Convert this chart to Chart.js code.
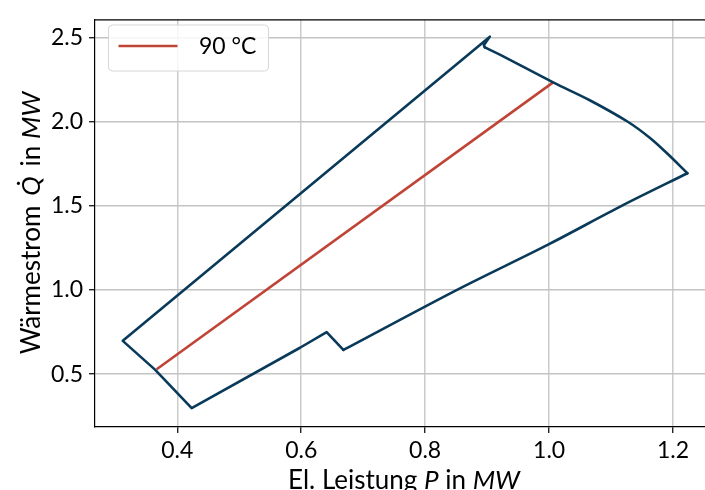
<!DOCTYPE html>
<html>
<head>
<meta charset="utf-8">
<script src="https://cdn.jsdelivr.net/npm/chart.js@4.4.1/dist/chart.umd.min.js"></script>
<style>
  html, body { margin: 0; padding: 0; background: #fff; overflow: hidden; }
  #wrap { width: 705px; height: 490px; position: relative; }
</style>
</head>
<body>
<div id="wrap"><canvas id="c" width="705" height="490"></canvas></div>
<script>
// ---- data ----
const regionLabel = "Betriebsbereich";
// straight parts of the operating-range outline
const regionP = [0.6680, 0.6410, 0.5980, 0.4232, 0.3640, 0.3120, 0.9044, 0.8947, 0.8963];
const regionQ = [0.644, 0.750, 0.657, 0.298, 0.527, 0.698, 2.506, 2.455, 2.442];
// curved upper-right boundary of the outline
const curveP = [0.8963, 0.9205, 1.0065, 1.0656, 1.1270, 1.1624, 1.1890, 1.2232];
const curveQ = [2.442, 2.399, 2.234, 2.128, 2.000, 1.905, 1.817, 1.694];
// slightly bent lower-right boundary
const lowerP = [1.2232, 1.1170, 1.0000, 0.8507, 0.6680];
const lowerQ = [1.694, 1.500, 1.273, 1.000, 0.644];
const line90Label = "90 °C";
const line90P = [0.3667, 1.0065];
const line90Q = [0.529, 2.234];
const xTicks = [0.4, 0.6, 0.8, 1.0, 1.2];
const yTicks = [0.5, 1.0, 1.5, 2.0, 2.5];
const xTitle = [["El. Leistung ", false], ["P", true], [" in ", false], ["MW", true]];
const yTitle = [["Wärmestrom \u2009", false], ["Q\u0307", true], ["\u2009 in ", false], ["MW", true]];

const BLUE = "#0a3a5a";
const RED = "#bf4436";
const FONT = "Lato";

function toPts(xs, ys) { return xs.map((x, i) => ({ x: x, y: ys[i] })); }

function drawMixed(ctx, segs, size) {
  let total = 0;
  const widths = segs.map(([t, it]) => {
    ctx.font = (it ? "italic " : "") + size + "px " + FONT;
    const w = ctx.measureText(t).width; total += w; return w;
  });
  let x = -total / 2;
  segs.forEach(([t, it], i) => {
    ctx.font = (it ? "italic " : "") + size + "px " + FONT;
    ctx.fillText(t, x, 0);
    x += widths[i];
  });
}

const decor = {
  id: "decor",
  afterDraw(chart) {
    const ctx = chart.ctx, a = chart.chartArea;
    ctx.save();
    // top spine
    ctx.strokeStyle = "#000"; ctx.lineWidth = 1.2;
    ctx.beginPath(); ctx.moveTo(a.left, a.top); ctx.lineTo(a.right, a.top); ctx.stroke();
    // axis titles
    ctx.fillStyle = "#000"; ctx.textBaseline = "alphabetic"; ctx.textAlign = "left";
    ctx.save(); ctx.translate(404, 489); drawMixed(ctx, xTitle, 26); ctx.restore();
    ctx.save(); ctx.translate(40, 223); ctx.rotate(-Math.PI / 2); drawMixed(ctx, yTitle, 26); ctx.restore();
    // legend
    const ds = chart.data.datasets[3];
    const bx = 108.5, by = 25, bw = 160, bh = 46, r = 4;
    ctx.globalAlpha = 0.85; ctx.fillStyle = "#fff";
    ctx.beginPath(); ctx.roundRect(bx, by, bw, bh, r); ctx.fill();
    ctx.globalAlpha = 1; ctx.strokeStyle = "#d6d6d6"; ctx.lineWidth = 1; ctx.stroke();
    ctx.strokeStyle = ds.borderColor; ctx.lineWidth = 2.6;
    ctx.beginPath(); ctx.moveTo(118.5, 46); ctx.lineTo(177.5, 46); ctx.stroke();
    ctx.fillStyle = "#000"; ctx.font = "23px " + FONT; ctx.textBaseline = "middle"; ctx.textAlign = "left";
    ctx.fillText(ds.label, 199, 47);
    ctx.restore();
  }
};

function outline(pts, tension) {
  return { label: regionLabel, data: pts, showLine: true, borderColor: BLUE, backgroundColor: BLUE,
    borderWidth: 2.6, pointRadius: 0, tension: tension, borderJoinStyle: "round", borderCapStyle: "round", fill: false };
}

function build() {
  new Chart(document.getElementById("c"), {
    type: "scatter",
    data: {
      datasets: [
        outline(toPts(regionP, regionQ), 0),
        outline(toPts(curveP, curveQ), 0.35),
        outline(toPts(lowerP, lowerQ), 0.3),
        { label: line90Label, data: toPts(line90P, line90Q), showLine: true, borderColor: RED, backgroundColor: RED,
          borderWidth: 2.6, pointRadius: 0, tension: 0, fill: false }
      ]
    },
    options: {
      responsive: false, animation: false, devicePixelRatio: 1,
      layout: { padding: { top: 11, right: 0, left: 0, bottom: 0 } },
      plugins: { legend: { display: false }, tooltip: { enabled: false } },
      scales: {
        x: {
          type: "linear", min: 0.2672, max: 1.2516,
          afterBuildTicks: s => { s.ticks = xTicks.map(v => ({ value: v })); },
          afterFit: s => { s.height = 63; },
          ticks: { callback: v => v.toFixed(1), font: { family: FONT, size: 23 }, color: "#000", padding: 4, maxRotation: 0 },
          grid: { color: "#cbcbcb", lineWidth: 1.5, tickLength: 6, tickColor: "#000", tickWidth: 1.2 },
          border: { display: true, color: "#000", width: 1.2 }
        },
        y: {
          type: "linear", min: 0.186, max: 2.606,
          afterBuildTicks: s => { s.ticks = yTicks.map(v => ({ value: v })); },
          afterFit: s => { s.width = 95; },
          ticks: { callback: v => v.toFixed(1), font: { family: FONT, size: 23 }, color: "#000", padding: 6 },
          grid: { color: "#c4c4c4", lineWidth: 1.5, tickLength: 6, tickColor: "#000", tickWidth: 1.2 },
          border: { display: true, color: "#000", width: 1.2 }
        }
      }
    },
    plugins: [decor]
  });
}
Promise.all([
  document.fonts.load("23px Lato"), document.fonts.load("italic 23px Lato")
]).then(build, build);
</script>
</body>
</html>
